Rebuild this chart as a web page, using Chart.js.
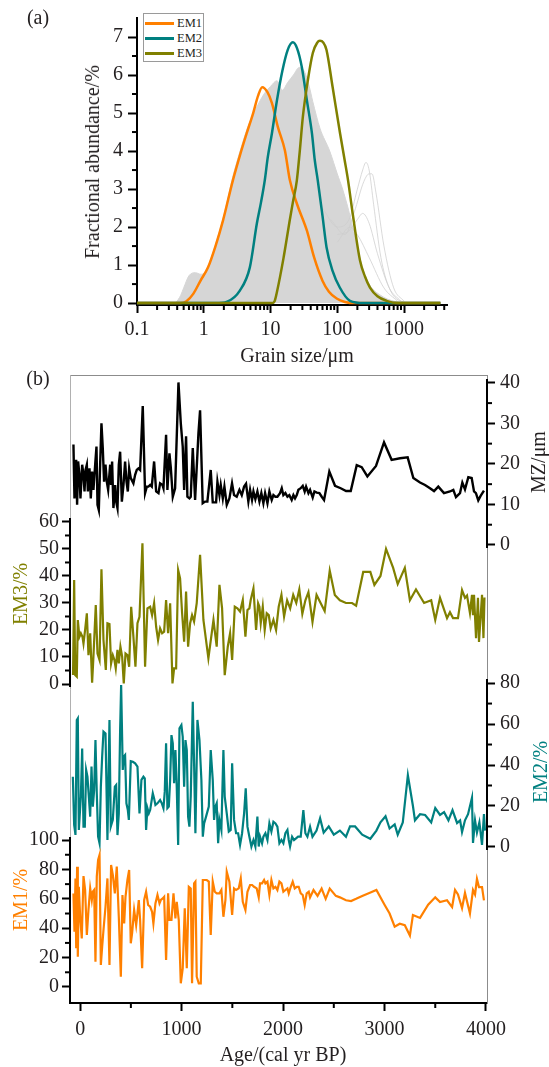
<!DOCTYPE html>
<html><head><meta charset="utf-8">
<script src="https://cdn.jsdelivr.net/npm/chart.js@4.4.1/dist/chart.umd.min.js"></script>
<style>
html,body{margin:0;padding:0;background:#fff;}
#wrap{position:relative;width:549px;height:1067px;overflow:hidden;font-family:"Liberation Serif","Times New Roman",serif;}
canvas{position:absolute;left:0;top:0;}
.t{position:absolute;font-size:20px;color:#231f20;white-space:nowrap;transform:translate(-50%,-50%);line-height:1;}
.r{transform:translate(-50%,-50%) rotate(-90deg);}
#legend{position:absolute;left:143px;top:13px;width:59px;height:47px;border:1px solid #9a9a9a;background:#fff;font-size:12.5px;color:#231f20;}
#legend .row{position:absolute;left:1px;height:14px;line-height:14px;}
#legend .ln{position:absolute;left:0;top:6px;width:29px;height:3px;}
#legend .lb{position:absolute;left:32px;top:0;}
</style></head><body>
<div id="wrap">
<canvas id="cA" width="549" height="370"></canvas>
<canvas id="cFrame" width="549" height="1067"></canvas>
<canvas id="cMZ" width="549" height="1067"></canvas>
<canvas id="cEM3" width="549" height="1067"></canvas>
<canvas id="cEM2" width="549" height="1067"></canvas>
<canvas id="cEM1" width="549" height="1067"></canvas>
<div id="legend"></div>
<div class="t" style="left:38px;top:17px;">(a)</div>
<div class="t" style="left:38px;top:378px;">(b)</div>
<div class="t r" style="left:92px;top:162px;">Fractional abundance/%</div>
<div class="t" style="left:297px;top:355px;">Grain size/μm</div>
<div class="t r" style="left:538px;top:462px;">MZ/μm</div>
<div class="t r" style="left:20px;top:594px;color:#808000;">EM3/%</div>
<div class="t r" style="left:540px;top:772px;color:#008080;">EM2/%</div>
<div class="t r" style="left:20px;top:900px;color:#ff8000;">EM1/%</div>
<div class="t" style="left:283px;top:1054px;">Age/(cal yr BP)</div>
</div>
<script>
// ---------- (a) grain-size distributions ----------
const grainTicks = [0.1, 1, 10, 100, 1000];
const abundTicks = [0, 1, 2, 3, 4, 5, 6, 7];
const em1Curve = [[0.1,0],[0.45,0],[0.55,0.05],[0.7,0.25],[0.9,0.6],[1.16,0.94],[1.5,1.5],[1.94,2.17],[2.73,3.23],[3.5,3.9],[4.4,4.47],[5.5,5.0],[6.5,5.45],[7.5,5.68],[9,5.55],[10.5,5.26],[12.9,4.63],[16.4,4.02],[19.5,3.23],[25,2.6],[35,1.91],[45,1.2],[60,0.59],[75,0.3],[98,0.12],[130,0.03],[180,0],[3500,0]];
const em2Curve = [[0.1,0],[1.5,0],[2.24,0.04],[3.47,0.33],[4.9,0.94],[6.25,2.1],[7.2,2.65],[8.2,3.23],[9.1,3.84],[10.5,4.47],[12.5,5.34],[15,6.1],[18,6.65],[21.6,6.86],[25,6.7],[29.5,6.2],[35,5.34],[41.7,4.47],[46,3.76],[51,3.23],[60,2.3],[69,1.47],[85,0.85],[109,0.41],[155,0.06],[250,0],[3500,0]];
const em3Curve = [[0.1,0],[10.5,0],[11.5,0.05],[12.5,0.3],[15.6,1.17],[19.5,2.2],[21.6,2.65],[24.8,3.23],[27.5,4.02],[30.5,4.9],[36.3,5.87],[43,6.58],[50,6.85],[55,6.9],[62,6.85],[69,6.66],[85,5.69],[110,4.47],[129,3.76],[145,3.23],[170,2.36],[219,1.12],[260,0.7],[309,0.41],[400,0.18],[550,0.06],[800,0],[3500,0]];
const sampleEnvelope = [[0.38,0],[0.45,0.2],[0.5,0.4],[0.6,0.72],[0.75,0.8],[0.9,0.76],[1.05,0.8],[1.3,1.2],[1.6,1.7],[2,2.3],[2.7,3.3],[3.5,4.0],[4.5,4.6],[6,5.1],[8,5.5],[10,5.7],[12.5,5.85],[15,5.6],[18,5.8],[22,6.0],[27,6.2],[32,6.1],[38,5.7],[43,5.3],[55,4.6],[77,4.0],[100,3.4],[120,3.0],[145,2.5],[170,2.0],[200,1.5],[230,1.0],[300,0.5],[450,0.2],[700,0.05],[1000,0.01],[3500,0]];
const sampleTail1 = [[60,2.5],[100,2.0],[150,2.2],[200,3.0],[240,3.5],[269,3.7],[300,3.5],[350,2.6],[450,1.2],[600,0.4],[900,0.05],[1500,0]];
const sampleTail2 = [[80,2.2],[130,1.8],[180,2.4],[250,3.2],[300,3.4],[331,3.4],[380,2.9],[500,1.5],[700,0.4],[1000,0.05]];
const sampleTail3 = [[100,1.8],[150,1.9],[200,2.2],[240,2.36],[300,2.1],[400,1.3],[600,0.4],[900,0.05]];
const sampleTail4 = [[100,1.6],[155,2.0],[200,1.8],[300,1.2],[500,0.4],[800,0.05]];

// ---------- (b) downcore records ----------
const ageTicks = [0, 1000, 2000, 3000, 4000];
const mzTicks = [0, 10, 20, 30, 40];
const em3Ticks = [0, 10, 20, 30, 40, 50, 60];
const em2Ticks = [0, 20, 40, 60, 80];
const em1Ticks = [0, 20, 40, 60, 80, 100];

const mzAge = [-66,-56,-39,-30,-20,-7,3,20,33,43,53,66,76,92,105,118,131,148,161,171,184,197,210,223,236,250,263,276,296,305,315,328,345,355,368,381,394,411,427,443,457,470,483,499,525,542,558,575,591,617,640,657,673,690,706,729,749,772,788,811,821,847,860,880,893,913,936,969,992,1011,1025,1044,1057,1077,1090,1110,1133,1166,1182,1208,1231,1254,1287,1307,1340,1353,1373,1386,1406,1422,1445,1471,1497,1517,1543,1570,1593,1616,1635,1658,1675,1694,1708,1727,1747,1767,1786,1806,1823,1846,1865,1888,1905,1924,1944,1970,1987,2003,2023,2043,2062,2085,2102,2118,2135,2151,2174,2194,2213,2227,2250,2266,2292,2309,2332,2358,2381,2404,2456,2512,2568,2621,2667,2726,2775,2831,2916,2995,3070,3153,3228,3284,3350,3399,3448,3488,3530,3586,3645,3678,3704,3744,3767,3793,3826,3859,3882,3901,3924,3947,3980];
const mz = [24.8,11.5,21.0,9.9,20.6,17.3,11.5,19.8,17.3,13.2,18.5,19.8,13.2,18.9,11.5,18.1,13.6,19.8,24.3,9.9,8.6,19.8,30.0,23.9,15.6,19.8,15.6,13.6,19.8,14.8,20.6,9.1,14.8,10.7,9.1,19.8,23.0,10.7,14.8,20.6,15.6,13.2,18.9,16.5,15.2,17.3,18.5,18.9,18.5,34.3,12.8,14.4,14.4,14.8,14.4,20.6,13.2,12.8,15.2,14.8,14.0,27.2,13.6,22.6,19.3,11.9,14.0,40.1,30.0,24.3,13.6,26.8,11.9,11.5,11.9,23.9,11.1,27.6,33.2,10.3,10.7,10.7,18.5,10.5,10.5,15.6,12.3,14.8,11.5,14.4,9.9,11.5,15.2,12.3,11.9,13.6,12.3,14.4,15.1,10.7,13.6,11.1,13.2,11.3,13.2,10.7,12.8,10.3,12.8,10.3,13.2,11.1,12.3,11.9,11.9,12.8,14.0,12.3,12.8,11.9,12.3,11.1,12.3,11.5,12.3,13.6,14.0,14.6,13.2,14.4,12.8,13.6,11.7,13.2,12.9,12.8,11.9,11.1,18.1,14.6,14.0,13.3,13.3,19.7,19.2,16.9,19.5,25.3,21.0,21.4,21.6,16.5,15.4,14.8,14.0,13.3,14.4,12.8,13.2,13.6,11.8,12.8,15.4,13.7,16.7,16.5,13.2,12.8,11.0,12.1,13.4];

const em3Age = [-70,-59,-49,-33,-23,-7,7,23,33,49,66,82,99,118,131,154,171,191,210,230,253,269,289,305,322,338,351,368,381,397,414,430,447,466,483,503,525,545,565,585,614,640,663,690,709,729,749,768,788,808,828,847,867,887,910,926,946,966,985,1005,1025,1044,1064,1084,1103,1123,1149,1182,1215,1264,1314,1346,1373,1399,1425,1455,1478,1498,1524,1550,1576,1603,1629,1649,1668,1681,1708,1734,1754,1767,1780,1800,1819,1839,1859,1878,1905,1931,1957,1984,2010,2040,2070,2100,2130,2160,2190,2220,2250,2290,2330,2370,2410,2460,2510,2560,2620,2680,2720,2790,2860,2900,2960,3015,3085,3130,3200,3250,3310,3390,3460,3500,3547,3616,3645,3675,3724,3764,3793,3813,3842,3862,3872,3882,3902,3921,3931,3961,3975,3985];
const em3 = [3.3,38.5,3.3,2.7,23.7,17.5,18.8,17.5,15.0,20.0,26.2,10.7,18.8,0.5,10.1,29.2,11.3,8.9,42.5,16.3,5.2,22.5,22.2,7.6,10.7,8.9,5.8,12.6,7.6,13.8,10.1,0.2,11.3,10.7,6.4,28.6,17.5,6.4,22.5,24.9,52.1,6.4,28.0,28.6,25.5,29.9,21.2,16.3,20.6,18.8,19.4,31.1,18.8,29.9,0.2,5.8,5.8,42.2,39.1,26.2,15.7,34.2,13.8,22.5,25.5,23.1,29.9,47.8,23.7,9.5,23.7,13.8,36.7,28.0,3.3,13.8,18.8,8.9,28.6,28.0,26.8,31.1,17.5,27.4,28.0,31.1,35.4,20.0,29.9,28.6,22.5,28.6,20.0,26.2,25.5,20.6,23.7,20.0,28.6,33,25,31,28,33,30,35,26,31,34,23,33,30,27,42,33,31,30,30,29,41.5,41.5,36.7,40,50,43,37,43,31,35,30,31,23.7,31.9,24.4,26.6,24.4,24.4,34.8,31.9,32.8,26.3,33,25.5,33,17,31.9,15.6,33,17,32];

const em2Age = [-72,-59,-46,-33,-23,-13,7,20,33,46,59,72,99,112,125,138,151,164,177,191,204,217,230,250,269,289,302,322,342,355,368,381,394,404,420,430,443,456,470,480,499,519,542,565,585,604,624,637,650,663,677,690,703,716,729,742,762,788,805,821,834,847,860,874,887,900,913,926,939,952,966,979,998,1011,1025,1038,1051,1064,1077,1090,1110,1123,1136,1156,1176,1195,1209,1222,1241,1268,1287,1307,1320,1333,1346,1360,1373,1392,1412,1425,1445,1465,1484,1498,1517,1537,1557,1576,1596,1616,1632,1649,1668,1688,1708,1727,1747,1760,1773,1793,1806,1826,1846,1865,1885,1905,1925,1944,1964,1984,2003,2023,2043,2056,2069,2089,2108,2128,2148,2174,2200,2220,2240,2266,2290,2330,2365,2400,2450,2500,2560,2620,2660,2710,2780,2860,2920,2960,3010,3050,3100,3130,3180,3230,3280,3300,3350,3400,3460,3500,3547,3587,3630,3670,3715,3745,3764,3793,3823,3862,3872,3892,3911,3935,3961,3980,3990];
const em2 = [34.3,10.7,5.9,62.0,62.8,8.3,24.6,48.1,9.9,9.9,37.6,34.3,14.8,39.2,19.7,27.8,52.2,26.2,5.0,1.8,29.4,44.1,56.3,55.4,3.4,62.0,9.9,13.2,29.4,30.2,5.8,16.4,57.1,79.0,37.6,44.1,44.9,21.3,18.0,13.2,41.9,41.6,40.8,39.2,16.4,32.7,34.3,33.5,8.3,18.9,16.4,18.0,22.1,26.2,23.7,20.5,21.3,22.9,21.3,18.9,27.0,50.6,18.9,19.7,32.7,54.6,50.6,31.1,47.3,29.4,1.0,57.9,59.5,53.8,29.4,52.2,47.3,14.8,9.9,24.6,70.9,40.8,6.7,62.0,52.2,32.7,5.0,11.5,14.8,19.7,47.3,32.7,13.2,19.7,21.3,1.8,13.2,8.3,47.3,24.6,16.4,7.5,8.3,40.8,13.2,6.7,6.7,1.0,6.7,16.4,28.6,9.9,5.0,0.2,3.4,0.2,14.8,0.2,5.0,1.8,5.0,6.7,3.4,11.5,7.5,12.3,11.5,9.9,1.8,3.4,1.8,6.7,8.3,3.4,0.2,5.0,3.4,4.2,5.0,5.0,18.0,6.7,5.0,9.9,5,8,14,7,10,6,8,5,10,10,6,4,8,12,15,9,11,6,12,35,20,13,16,15.6,12,19,15.6,17,13,18,11.7,13,7.3,13,16,24,2,13,7,12,1,16,8];

const em1Age = [-66,-56,-46,-39,-30,-23,-13,0,16,33,49,66,82,99,115,125,138,151,164,177,191,204,217,230,250,269,289,305,322,342,361,381,401,417,434,447,466,483,499,512,532,552,565,578,591,611,631,650,670,690,709,722,742,762,782,795,814,828,847,867,880,900,920,939,952,972,992,1011,1031,1051,1071,1090,1103,1123,1136,1149,1169,1189,1209,1248,1268,1287,1307,1327,1346,1373,1392,1412,1432,1445,1471,1498,1517,1537,1563,1583,1603,1629,1649,1675,1695,1714,1740,1760,1773,1793,1813,1826,1846,1865,1885,1905,1925,1944,1964,1984,2003,2023,2043,2056,2076,2095,2115,2135,2154,2174,2194,2213,2233,2253,2266,2300,2340,2380,2420,2460,2520,2560,2620,2670,2720,2780,2850,2920,3000,3050,3100,3150,3200,3250,3280,3350,3430,3500,3547,3616,3666,3695,3724,3764,3793,3842,3872,3892,3911,3931,3961,3980];
const em1 = [63.7,37.6,73.9,26.3,81.9,20.6,68.2,47.8,33.1,75.5,66.0,35.4,52.4,67.1,59.2,64.8,66.0,17.2,75.1,86.4,89.8,15.0,27.4,38.8,54.6,73.9,15.0,83.0,76.2,63.7,81.9,47.8,7.0,62.6,43.3,61.4,72.8,79.6,29.7,36.5,52.4,42.2,50.1,59.2,45.6,12.7,59.2,64.8,55.8,54.6,51.2,43.3,56.9,62.6,56.9,59.2,60.3,61.4,18.4,63.7,45.6,45.6,63.7,46.7,58.0,45.6,2.5,12.7,53.5,12.7,68.2,67.1,2.5,70.5,71.7,7.0,2.5,2.5,72.8,72.8,71.7,35.4,71.7,64.8,63.7,63.7,66.0,47.8,59.2,78.5,71.7,49.0,67.1,66.0,67.1,73.9,58.0,52.4,64.8,69.4,69.4,68.2,67.1,61.0,70.5,70.5,72.8,70.5,71.7,62.6,72.8,67.1,68.2,66.0,71.7,70.5,64.8,66.0,67.1,63.7,68.2,71.7,67.1,68.2,68.2,63.7,62.6,55.8,63.7,64.8,61.0,66,62,67,60,67,62,61,59,58.5,60,62,64,66,56,50,41,43,42,35,49,47,56,61,57.8,59,54.4,66,63,53.7,64,50,66,63,73.5,68,68,59];

// ---------- helpers ----------
Chart.defaults.font.family = '"Liberation Serif","Times New Roman",serif';
Chart.defaults.font.size = 20;
Chart.defaults.color = '#231f20';
const C_EM1 = '#ff8000', C_EM2 = '#008080', C_EM3 = '#808000', C_GRAY = '#d6d6d6';
const AGE_MIN = -100, AGE_MAX = 4010;

function range(a, b, step) { const r = []; for (let v = a; v <= b + 1e-9; v += step) r.push(+v.toFixed(6)); return r; }

const minorTicks = {
  id: 'minorTicks',
  afterDraw(chart, args, opts) {
    const ctx = chart.ctx;
    ctx.save();
    ctx.strokeStyle = '#000';
    ctx.lineWidth = 2;
    for (const id in opts) {
      const s = chart.scales[id]; if (!s) continue;
      const def = opts[id];
      for (const v of def.values) {
        const p = s.getPixelForValue(v);
        ctx.beginPath();
        if (s.isHorizontal()) { ctx.moveTo(p, s.top); ctx.lineTo(p, s.top + def.len); }
        else if (s.position === 'left') { ctx.moveTo(s.right, p); ctx.lineTo(s.right - def.len, p); }
        else { ctx.moveTo(s.left, p); ctx.lineTo(s.left + def.len, p); }
        ctx.stroke();
      }
    }
    ctx.restore();
  }
};

const pts = arr => arr.map(p => ({x: p[0], y: p[1]}));
const axisStyle = (tickLen, pad) => ({
  border: {display: true, color: '#000', width: 2},
  grid: {display: true, drawOnChartArea: false, drawTicks: true, tickLength: tickLen, tickColor: '#000', tickWidth: 2},
  ticks: {padding: pad, color: '#231f20', font: {size: 20}, autoSkip: false, maxRotation: 0, callback: v => String(v)}
});

// ---------- chart (a) ----------
const tailStyle = {borderColor: 'rgba(205,205,205,0.75)', borderWidth: 1, pointRadius: 0, cubicInterpolationMode: 'monotone', order: 9};
const chartA = new Chart(document.getElementById('cA'), {
  type: 'line',
  data: {datasets: [
    {label: 'samples', data: pts(sampleEnvelope), borderColor: C_GRAY, backgroundColor: C_GRAY, fill: 'origin', borderWidth: 1, pointRadius: 0, cubicInterpolationMode: 'monotone', order: 10},
    Object.assign({label: 'tail1', data: pts(sampleTail1)}, tailStyle),
    Object.assign({label: 'tail2', data: pts(sampleTail2)}, tailStyle),
    Object.assign({label: 'tail3', data: pts(sampleTail3)}, tailStyle),
    Object.assign({label: 'tail4', data: pts(sampleTail4)}, tailStyle),
    {label: 'EM1', data: pts(em1Curve), borderColor: C_EM1, borderWidth: 2.5, pointRadius: 0, cubicInterpolationMode: 'monotone', order: 3},
    {label: 'EM2', data: pts(em2Curve), borderColor: C_EM2, borderWidth: 2.5, pointRadius: 0, cubicInterpolationMode: 'monotone', order: 2},
    {label: 'EM3', data: pts(em3Curve), borderColor: C_EM3, borderWidth: 2.5, pointRadius: 0, cubicInterpolationMode: 'monotone', order: 1}
  ]},
  options: {
    responsive: false, animation: false, events: [],
    layout: {padding: {top: 18, right: 102, left: 0, bottom: 0}},
    scales: {
      x: Object.assign({type: 'logarithmic', position: 'bottom', min: 0.1, max: 4400,
        afterBuildTicks: s => { s.ticks = grainTicks.map(v => ({value: v})); },
        afterFit: s => { s.height = 65; }}, axisStyle(8, 5)),
      y: Object.assign({type: 'linear', position: 'left', min: -0.05, max: 7.5,
        afterBuildTicks: s => { s.ticks = abundTicks.map(v => ({value: v})); },
        afterFit: s => { s.width = 137; }}, axisStyle(9, 5))
    },
    plugins: {legend: {display: false}, tooltip: {enabled: false},
      minorTicks: {
        x: {len: 5, values: [0.2,0.3,0.4,0.5,0.6,0.7,0.8,0.9,2,3,4,5,6,7,8,9,20,30,40,50,60,70,80,90,200,300,400,500,600,700,800,900,2000,3000,4000]},
        y: {len: 5, values: range(0.5, 7.0, 1)}
      }}
  },
  plugins: [minorTicks]
});

// HTML legend built from chart datasets
(function () {
  const lg = document.getElementById('legend');
  chartA.data.datasets.filter(d => d.label.startsWith('EM')).forEach((d, i) => {
    const row = document.createElement('div');
    row.className = 'row'; row.style.top = (2 + i * 15) + 'px';
    row.innerHTML = '<span class="ln" style="background:' + d.borderColor + '"></span><span class="lb">' + d.label + '</span>';
    lg.appendChild(row);
  });
})();

// ---------- chart (b) frame ----------
new Chart(document.getElementById('cFrame'), {
  type: 'line',
  data: {datasets: []},
  options: {
    responsive: false, animation: false, events: [],
    layout: {padding: {top: 375, left: 0, right: 0, bottom: 0}},
    scales: {
      x: Object.assign({type: 'linear', position: 'bottom', min: AGE_MIN, max: AGE_MAX,
        afterBuildTicks: s => { s.ticks = ageTicks.map(v => ({value: v})); },
        afterFit: s => { s.height = 64; }}, axisStyle(8, 7)),
      x2: {type: 'linear', position: 'top', min: AGE_MIN, max: AGE_MAX, afterFit: s => { s.height = 0; },
        border: {display: true, color: '#8c8c8c', width: 1}, grid: {display: false}, ticks: {display: false}},
      yL: {type: 'linear', position: 'left', min: 0, max: 1, afterFit: s => { s.width = 70; },
        border: {display: true, color: '#b0b0b0', width: 1}, grid: {display: false}, ticks: {display: false}},
      yR: {type: 'linear', position: 'right', min: 0, max: 1, afterFit: s => { s.width = 62; },
        border: {display: true, color: '#8c8c8c', width: 1}, grid: {display: false}, ticks: {display: false}}
    },
    plugins: {legend: {display: false}, tooltip: {enabled: false},
      minorTicks: {x: {len: 5, values: [500, 1500, 2500, 3500]}}}
  },
  plugins: [minorTicks]
});

// ---------- chart (b) panels ----------
function panel(id, ages, vals, color, lw, side, min, max, top, bottom, ticks, minorVals) {
  return new Chart(document.getElementById(id), {
    type: 'line',
    data: {datasets: [{data: ages.map((a, i) => ({x: a, y: vals[i]})), borderColor: color, borderWidth: lw, pointRadius: 0, tension: 0, clip: false, borderJoinStyle: 'miter'}]},
    options: {
      responsive: false, animation: false, events: [],
      layout: {padding: {top: top, bottom: 1067 - bottom, left: side === 'left' ? 0 : 70, right: side === 'right' ? 0 : 62}},
      scales: {
        x: {type: 'linear', display: false, min: AGE_MIN, max: AGE_MAX},
        y: Object.assign({type: 'linear', position: side, min: min, max: max,
          afterBuildTicks: s => { s.ticks = ticks.map(v => ({value: v})); },
          afterFit: s => { s.width = side === 'left' ? 70 : 62; }}, axisStyle(8, side === 'left' ? 3 : 5))
      },
      plugins: {legend: {display: false}, tooltip: {enabled: false},
        minorTicks: {y: {len: 5, values: minorVals}}}
    },
    plugins: [minorTicks]
  });
}
panel('cMZ', mzAge, mz, '#000', 2.4, 'right', -0.5, 40.7, 380, 547, mzTicks, range(5, 35, 10));
panel('cEM3', em3Age, em3, C_EM3, 2.2, 'left', -0.74, 61.1, 519, 686, em3Ticks, range(5, 55, 10));
panel('cEM2', em2Age, em2, C_EM2, 2.2, 'right', -1, 81.5, 680, 849, em2Ticks, range(10, 70, 20));
panel('cEM1', em1Age, em1, C_EM1, 2.2, 'left', -10.9, 101.4, 838, 1003, em1Ticks, range(10, 90, 20));
</script>
</body></html>
